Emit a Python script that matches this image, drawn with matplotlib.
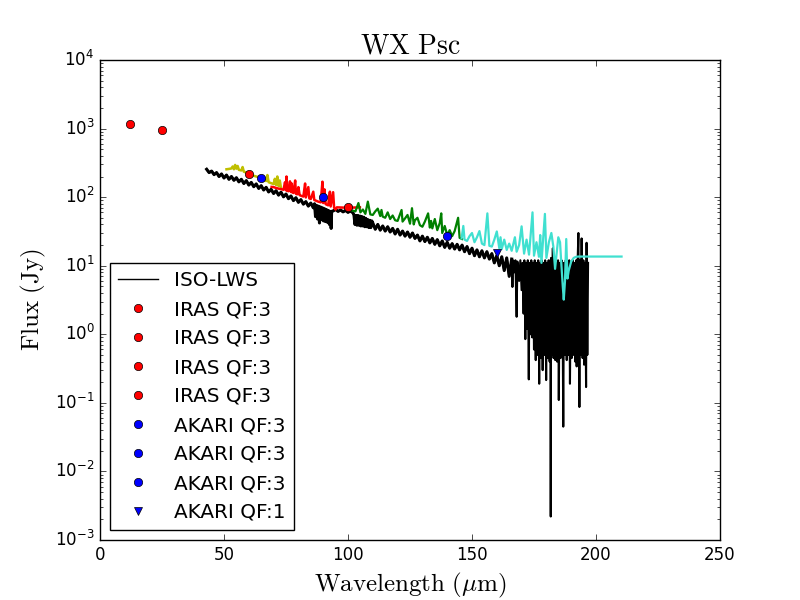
import matplotlib
matplotlib.use("Agg")
import matplotlib.pyplot as plt

plt.style.use("classic")

# ---------------- data ----------------
# ISO-LWS spectrum (black)
iso_wl = [43, 44, 45, 46, 47, 48, 49, 50, 51, 52, 53, 54, 55, 56, 57, 58, 59, 60, 61, 62,
          63, 64, 65, 66, 67, 68, 69, 70, 71, 72, 73, 74, 75, 76, 77, 78, 79, 80, 81, 82,
          83, 84, 85, 86,
          86.5, 86.9, 87.3, 87.7, 88.1, 88.5, 88.9, 89.3, 89.7, 90.1, 90.5, 90.9, 91.3, 91.7,
          92.1, 92.5, 92.9, 93.2, 93.4,
          94, 95, 96, 97, 98, 99, 100, 101, 102,
          102.4, 102.8, 103.2, 103.6, 104, 104.4, 104.8, 105.2, 105.6, 106, 106.4, 106.8,
          107.2, 107.6, 108, 108.4, 108.8, 109.2, 109.6,
          110, 111, 112, 113, 114, 115, 116, 117, 118, 119, 120, 121, 122, 123, 124, 125,
          126, 127, 128, 129, 130, 131, 132, 133, 134, 135, 136, 137, 138, 139, 140, 141,
          142, 143, 144, 145, 146, 147, 148, 149, 150, 151, 152, 153, 154, 155, 156, 157,
          158, 159, 160, 161, 162, 163, 164, 165, 166, 166.3, 166.6, 167, 167.5, 168, 168.3,
          169, 169.5, 170,
          170.4, 170.8, 171.1, 171.5, 171.8, 172.2, 172.5, 172.9, 173.2, 173.6, 173.9, 174.3,
          174.6, 175.0, 175.3, 175.7, 176.0, 176.4, 176.7, 177.1, 177.4, 177.8, 178.1, 178.5,
          178.8, 179.2, 179.5, 179.9, 180.2, 180.6, 180.9, 181.3, 181.6, 181.75, 181.9, 182.2,
          182.6, 182.9, 183.3, 183.6, 184.0, 184.3, 184.7, 185.0, 185.4, 185.7, 186.1, 186.4,
          186.8, 187.1, 187.5, 187.8, 188.2, 188.5, 188.9, 189.2, 189.5, 189.9, 190.2, 190.6,
          190.9, 191.3, 191.6, 192.0, 192.2, 192.6, 192.9, 193.3, 193.6, 193.9, 194.2, 194.6,
          194.9, 195.2, 195.6, 196.0, 196.2, 196.5, 196.8]
iso_flux = [255, 228, 240, 213, 228, 200, 218, 190, 210, 182, 200, 176, 192, 167, 182, 158, 174, 150, 164, 142,
            156, 134, 147, 127, 139, 119, 130, 113, 124, 107, 118, 101, 111, 95, 104, 89, 98, 84, 92, 79,
            86, 74, 82, 70,
            80, 52, 76, 48, 74, 42, 72, 47, 70, 45, 68, 44, 66, 43,
            64, 40, 62, 35, 62,
            63, 66, 62, 65, 61, 64, 60, 63, 59,
            55, 40, 54, 39, 54, 39, 53, 38, 52, 38, 51, 37,
            49, 37, 47, 36, 46, 36, 45,
            42, 34, 40, 33, 38, 32, 37, 31, 35, 29, 34, 28, 32, 27, 31, 26,
            30, 25, 28, 23, 27, 22.5, 26, 21.5, 25, 20.5, 24, 19.5, 23, 18.5, 22, 18,
            21, 17.5, 20.5, 17, 20, 16, 19, 15, 18, 14, 17, 13.5, 16.5, 13, 16, 12.5,
            15, 11, 14, 10, 13.5, 8.5, 13, 7, 12.5, 4.9, 12, 8, 12, 1.8, 11.5,
            6, 12, 4.4,
            11, 2.0, 12, 0.85, 11, 1.2, 12, 0.22, 11, 1.0, 12, 0.9,
            11, 0.6, 12, 0.42, 11, 0.5, 12, 0.19, 11, 0.45, 12, 0.30,
            11, 0.5, 12, 0.215, 11, 0.45, 12, 0.4, 12, 0.0022, 13, 0.5,
            18, 0.45, 12, 0.42, 11, 0.4, 12, 0.11, 11, 0.45, 12, 11,
            0.045, 11, 0.5, 12, 0.42, 11, 0.5, 12, 0.19, 11, 0.45, 12,
            0.5, 11, 0.4, 12, 0.34, 12, 30, 0.087, 12, 0.5, 25, 0.45,
            12, 0.36, 11, 0.17, 21.6, 0.5, 11]

# Spectrum segments (coloured)
yel_wl = [51, 52, 53, 53.5, 54, 54.5, 55, 55.5, 56, 57, 57.5, 58, 59, 60, 61, 62, 63, 64,
          65, 66, 67, 67.5, 68, 69, 70, 70.5, 71, 71.5, 72, 72.5, 73]
yel_flux = [255, 258, 262, 280, 255, 295, 260, 285, 250, 245, 275, 235, 228, 218, 210, 205,
            200, 195, 188, 182, 172, 210, 165, 160, 155, 185, 150, 200, 145, 175, 135]

red_wl = [69.2, 70, 71, 72, 73, 74, 74.6, 75, 75.2, 75.5, 76, 76.6, 77, 77.3, 77.6, 78, 78.7,
          79, 79.5, 80, 80.5, 81, 82, 82.7, 83, 84, 84.4, 85, 86, 86.4, 87, 88, 89, 89.7, 90,
          90.5, 91, 92, 92.7, 93, 94, 94.4, 95, 95.5, 100, 104.8]
red_flux = [141, 140, 136, 133, 131, 128, 165, 126, 200, 124, 122, 170, 119, 158, 117, 115, 175,
            112, 110, 140, 107, 105, 102, 158, 99, 140, 96, 94, 120, 91, 89, 86, 84, 168, 82,
            130, 79, 76, 120, 73, 118, 70, 66, 71, 70, 71]

grn_wl = [101.5, 103, 104.2, 105, 106, 107, 108, 109, 110, 111, 112, 113, 113.5, 114, 115,
          116, 117, 118, 119, 120, 121.6, 122, 123, 124, 125, 125.8, 126.5, 127, 128, 129, 130,
          131, 132.3, 133, 133.5, 134, 135, 136, 137, 137.6, 138, 139, 140, 141, 142, 143,
          144.4, 145, 146]
grn_flux = [64, 62, 82, 60, 66, 57, 86, 56, 55, 62, 68, 53, 65, 52, 50, 60, 48, 54, 46, 45,
            65, 44, 49, 55, 41, 69, 40, 46, 50, 39, 37, 44, 58, 36, 45, 35, 48, 33, 42, 58, 30,
            38, 28, 33, 27, 32, 50, 25.5, 24.5]

cyn_wl = [145.8, 146.5, 147, 148, 149, 150, 151, 152, 153, 154, 155, 156.2, 157, 158, 159,
          160, 161, 161.5, 162, 163, 164, 165, 166, 167.3, 168, 169, 170, 171, 172, 173,
          174.4, 175, 176, 177, 177.5, 178, 179.4, 180, 181, 182, 182.8, 183.5, 184.8, 185.5,
          186, 186.6, 187, 187.5, 188, 188.5, 189, 190, 191, 192, 192.9, 210.3]
cyn_flux = [25, 38, 24, 23, 27, 30, 22, 26, 32, 21, 20, 58, 19.5, 19, 24, 31.6, 18, 26,
            17.5, 24, 17, 21, 16.5, 26, 16, 20, 37.5, 15, 24, 14.5, 60, 14, 22, 13.5, 28, 11,
            57, 13, 22, 30, 19, 9, 26, 22, 11, 5, 3.2, 6, 24.5, 6.5, 8.5, 11.5, 13, 13.5, 13.6,
            13.6]

# Photometry
iras_wl = [12, 25, 60, 100]
iras_flux = [1166, 955, 217, 72]
akari3_wl = [65, 90, 140]
akari3_flux = [190, 100, 27]
akari1_wl = [160]
akari1_flux = [15.3]

# ---------------- plot ----------------
fig = plt.figure(figsize=(8, 6), dpi=100)
ax = fig.add_subplot(111)

n_cont = iso_wl.index(166)
ax.plot(iso_wl, iso_flux, color="k", lw=1.5, label="ISO-LWS")
ax.plot(iso_wl[:n_cont + 1], iso_flux[:n_cont + 1], color="k", lw=2.2)
ax.plot(yel_wl, yel_flux, color="y", lw=1.8)
ax.plot(red_wl, red_flux, color="r", lw=1.8)
ax.plot(grn_wl, grn_flux, color="g", lw=1.6)
ax.plot(cyn_wl, cyn_flux, color="turquoise", lw=1.6)

for w, f in zip(iras_wl, iras_flux):
    ax.plot([w], [f], "o", color="r", markersize=6, label="IRAS QF:3")
for w, f in zip(akari3_wl, akari3_flux):
    ax.plot([w], [f], "o", color="b", markersize=6, label="AKARI QF:3")
for w, f in zip(akari1_wl, akari1_flux):
    ax.plot([w], [f], "v", color="b", markersize=6, label="AKARI QF:1")

ax.set_yscale("log")
ax.set_xlim(0, 250)
ax.set_ylim(1e-3, 1e4)
ax.set_title(r"$\mathrm{WX\ Psc}$", fontsize=20)
ax.set_xlabel(r"$\mathrm{Wavelength\ (}\mu\mathrm{m)}$", fontsize=18)
ax.set_ylabel(r"$\mathrm{Flux\ (Jy)}$", fontsize=18)
leg = ax.legend(loc="lower left", numpoints=1)
leg.get_lines()[0].set_linewidth(1.0)

fig.savefig("out.png", dpi=100)
